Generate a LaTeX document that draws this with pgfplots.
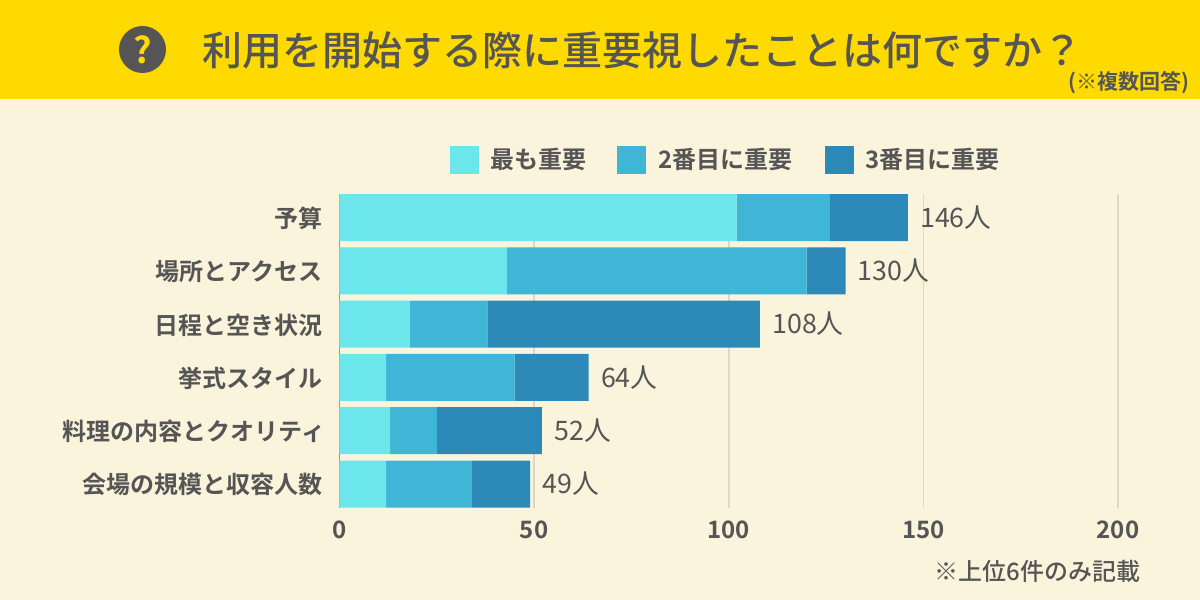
\documentclass[border=0pt]{standalone}
\usepackage{pgfplots}
\pgfplotsset{compat=1.18}
\usepackage{fontspec}
\setmainfont{Noto Sans CJK JP}[BoldFont={Noto Sans CJK JP Bold}]
\newfontfamily\med{Noto Sans CJK JP Medium}
\definecolor{bg}{HTML}{FBF4DC}
\definecolor{band}{HTML}{FFDA00}
\definecolor{ink}{HTML}{555555}
\definecolor{c1}{HTML}{6BE6EA}
\definecolor{c2}{HTML}{40B6D6}
\definecolor{c3}{HTML}{2C89B8}
\definecolor{gridc}{HTML}{DDD8C6}
\pgfplotsset{swatch/.style={legend image code/.code={\fill[##1] (0pt,-7pt) rectangle (14.5pt,7.25pt);}}}
\begin{document}
\begin{tikzpicture}
\path[use as bounding box] (0,0) rectangle (600pt,300pt);
\fill[bg] (0,0) rectangle (600pt,300pt);
\fill[band] (0,250.5pt) rectangle (600pt,300pt);
\fill[ink] (71.25pt,275.25pt) circle (11.75pt);
\node[text=band,font=\bfseries\fontsize{18}{18}\selectfont,inner sep=0pt] at (71.25pt,275.25pt) {?};
\node[anchor=west,inner sep=0pt,text=ink,font=\med\fontsize{20}{24}\selectfont] at (101pt,275pt) {利用を開始する際に重要視したことは何ですか？};
\node[anchor=east,inner sep=0pt,text=ink,font=\bfseries\fontsize{10.5}{12}\selectfont] at (595pt,258.5pt) {(※複数回答)};
\node[anchor=east,inner sep=0pt,text=ink,font=\med\fontsize{12}{14}\selectfont] at (570.5pt,14.5pt) {※上位6件のみ記載};
\begin{axis}[
  at={(169.75pt,46pt)},anchor=south west,scale only axis,
  width=389.25pt,height=157pt,
  xbar stacked,bar width=23.5pt,
  xmin=0,xmax=200,ymin=-0.441,ymax=5.45,y dir=reverse,
  xtick={0,50,100,150,200},
  ytick={0,1,2,3,4,5},
  yticklabels={予算,場所とアクセス,日程と空き状況,挙式スタイル,料理の内容とクオリティ\kern-1.5pt,会場の規模と収容人数},
  axis x line=bottom,axis y line=left,
  x axis line style={draw=none},
  y axis line style={draw=gray!80,line width=0.5pt,-},
  major tick length=0pt,
  xmajorgrids,grid style={gridc,line width=0.8pt},
  /pgf/number format/assume math mode=true,
  ticklabel style={text=ink,font=\bfseries\fontsize{12}{14}\selectfont},
  yticklabel style={xshift=-5pt,yshift=-0.4pt},
  xticklabel style={yshift=-3pt},
  legend columns=3,
  legend style={at={(0.1419,1.108)},anchor=west,draw=none,fill=none,inner sep=0pt,outer sep=0pt,
    font=\bfseries\fontsize{12}{14}\selectfont,text=ink,
    /tikz/column 1/.style={column sep=4pt},
    /tikz/column 2/.style={column sep=13.25pt},
    /tikz/column 3/.style={column sep=4pt},
    /tikz/column 4/.style={column sep=14pt},
    /tikz/column 5/.style={column sep=4pt}},
  legend cell align=left,
]
\addplot[fill=c1,draw=none,swatch] coordinates {(102,0) (43,1) (18,2) (12,3) (13,4) (12,5)};
\addplot[fill=c2,draw=none,swatch] coordinates {(24,0) (77,1) (20,2) (33,3) (12,4) (22,5)};
\addplot[fill=c3,draw=none,swatch] coordinates {(20,0) (10,1) (70,2) (19,3) (27,4) (15,5)};
\addplot[draw=none,
  point meta=explicit,
  nodes near coords={\pgfmathprintnumber{\pgfplotspointmeta}人},
  every node near coord/.append style={anchor=west,inner sep=0pt,xshift=6pt,text=ink,font=\fontsize{13.4}{15}\selectfont}]
  coordinates {(0.001,0)[146] (0.001,1)[130] (0.001,2)[108] (0.001,3)[64] (0.001,4)[52] (0.001,5)[49]};
\legend{最も重要,2番目に重要,3番目に重要}
\end{axis}
\end{tikzpicture}
\end{document}
